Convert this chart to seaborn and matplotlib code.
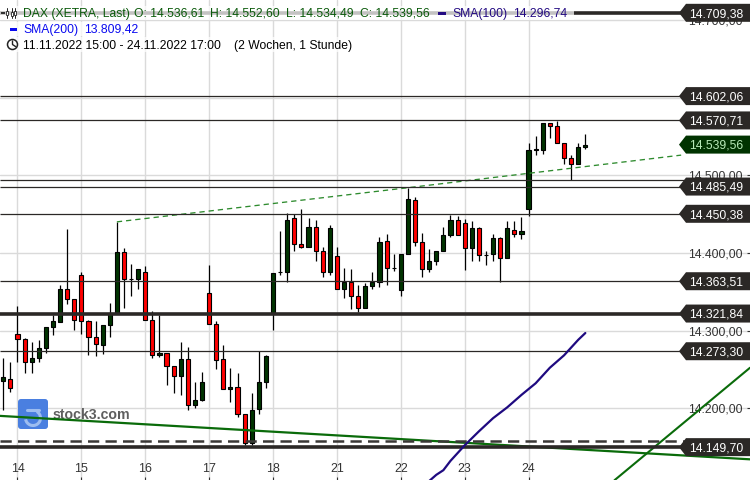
import matplotlib
matplotlib.use('Agg')
import matplotlib.pyplot as plt
import matplotlib.transforms as mtransforms
from matplotlib.patches import Polygon, Rectangle, FancyBboxPatch, Circle, Arc
import numpy as np
import pandas as pd
import seaborn as sns

# hourly candles
opens = [14235, 14238, 14296, 14289, 14260, 14264, 14278, 14304, 14311, 14354,
         14340, 14372, 14312, 14291, 14281, 14307, 14322, 14401, 14366, 14366,
         14375, 14314, 14268, 14271, 14254, 14242, 14263, 14204, 14211, 14348,
         14308, 14263, 14224, 14227, 14192, 14155, 14199, 14233, 14322, 14375,
         14375, 14445, 14411, 14407, 14433, 14403, 14376, 14396, 14353, 14362,
         14345, 14329, 14357, 14363, 14415, 14380, 14352, 14398, 14468, 14414,
         14379, 14390, 14402, 14423, 14443, 14438, 14406, 14432, 14397, 14398,
         14419, 14394, 14430, 14425, 14456, 14533, 14533, 14567, 14564, 14541,
         14522, 14515, 14536.61]
highs = [14264, 14259, 14332, 14290, 14285, 14288, 14304, 14320, 14358, 14431,
         14341, 14375, 14314, 14312, 14307, 14336, 14440, 14406, 14386, 14379,
         14383, 14325, 14320, 14271, 14254, 14285, 14279, 14234, 14246, 14384,
         14312, 14281, 14252, 14245, 14193, 14220, 14273, 14268, 14374, 14428,
         14452, 14450, 14457, 14445, 14443, 14408, 14436, 14407, 14380, 14379,
         14359, 14361, 14375, 14421, 14425, 14399, 14398, 14484, 14472, 14426,
         14405, 14402, 14433, 14449, 14447, 14444, 14441, 14434, 14403, 14425,
         14420, 14441, 14441, 14446, 14541, 14551, 14567, 14568, 14570, 14542,
         14526, 14541, 14552.60]
lows = [14198, 14221, 14259, 14245, 14245, 14259, 14271, 14294, 14311, 14334,
        14301, 14295, 14268, 14267, 14270, 14292, 14322, 14329, 14344, 14354,
        14313, 14265, 14266, 14230, 14220, 14217, 14197, 14200, 14209, 14308,
        14251, 14224, 14208, 14189, 14152, 14152, 14192, 14226, 14301, 14372,
        14363, 14403, 14406, 14407, 14390, 14369, 14371, 14353, 14342, 14328,
        14324, 14329, 14353, 14356, 14359, 14377, 14344, 14398, 14409, 14369,
        14376, 14385, 14402, 14420, 14423, 14378, 14389, 14389, 14385, 14389,
        14363, 14393, 14420, 14418, 14448, 14526, 14528, 14548, 14541, 14515,
        14494, 14515, 14534.49]
closes = [14240, 14226, 14289, 14260, 14264, 14277, 14304, 14312, 14354, 14340,
          14313, 14312, 14291, 14282, 14307, 14322, 14401, 14366, 14366, 14379,
          14314, 14268, 14271, 14254, 14242, 14263, 14204, 14211, 14234, 14308,
          14262, 14224, 14227, 14192, 14155, 14198, 14233, 14267, 14374, 14375,
          14443, 14411, 14407, 14433, 14402, 14376, 14432, 14353, 14362, 14345,
          14329, 14357, 14363, 14414, 14380, 14380, 14398, 14469, 14414, 14379,
          14390, 14402, 14423, 14443, 14423, 14406, 14432, 14397, 14397, 14419,
          14394, 14432, 14425, 14428, 14533, 14533, 14567, 14564, 14541, 14522,
          14515, 14536, 14539.56]

day_pos = [2, 11, 20, 29, 38, 47, 56, 65, 74]
day_labels = ['14', '15', '16', '17', '18', '21', '22', '23', '24']

price_ticks = [14200, 14300, 14400, 14500, 14600, 14700]
price_tick_labels = ['14.200,00', '14.300,00', '14.400,00', '14.500,00', '14.600,00', '14.700,00']

sma_x = [60, 61, 62, 63, 65, 67, 69, 71, 73, 75, 77, 79, 81, 82]
sma_y = [14106, 14114, 14120, 14132, 14152, 14170, 14187, 14201, 14217, 14232, 14252, 14268, 14288, 14296.74]

# horizontal levels: value, label, thick?
levels = [14709.38, 14602.06, 14570.71, 14485.49, 14450.38, 14363.51, 14321.84, 14273.30, 14149.70]
level_labels = ['14.709,38', '14.602,06', '14.570,71', '14.485,49', '14.450,38',
                '14.363,51', '14.321,84', '14.273,30', '14.149,70']
thick_levels = [14709.38, 14321.84, 14149.70]
unlabelled_level = 14493.6
dashed_level = 14157
last_price = 14539.56

# drawn trend lines
trend_dash_x = [16, 57, 95.5]
trend_dash_y = [14440, 14484, 14526]
trend_down_x = [-0.5, 105.2]
trend_down_y = [14190, 14134]
trend_up_x = [86.1, 105.2]
trend_up_y = [14107, 14252]

DARK = '#2b2826'
CANDLE_GREEN = '#003300'

sns.set_theme(style='whitegrid', rc={'grid.color': '#dadada', 'grid.linewidth': 1.0})
plt.rcParams['font.family'] = ['Liberation Sans', 'DejaVu Sans']

fig = plt.figure(figsize=(7.5, 4.8), dpi=100)
ax = fig.add_axes([0, 0, 1, 1])
ax.set_xlim(-0.465, 105.2)
ax.set_ylim(14107.35, 14725.9)
ax.set_axisbelow(True)
for s in ax.spines.values():
    s.set_visible(False)

# pixel coordinates for the overlay bits, y going down
px = mtransforms.Affine2D().scale(1 / 750, -1 / 480).translate(0, 1) + fig.transFigure

ax.set_xticks(day_pos)
ax.set_xticklabels(day_labels, fontsize=8.9, color='#333333')
ax.yaxis.tick_right()
ax.set_yticks(price_ticks)
ax.set_yticklabels(price_tick_labels, fontsize=8.7, color='#333333', ha='right', va='center_baseline')
ax.tick_params(axis='x', direction='in', length=2.5, width=0.8, color='#333333', pad=-12, bottom=True)
ax.tick_params(axis='y', direction='in', length=2.5, width=0.8, color='#333333', pad=-5, right=True)
ax.xaxis.grid(True)
ax.yaxis.grid(True)

# watermark
ax.add_patch(FancyBboxPatch((20, 401), 26, 26, boxstyle='round,pad=2,rounding_size=3', transform=px,
                            fc='#4a7fe0', ec='none', zorder=1))
ax.plot([27, 39], [410, 410], transform=px, color='#9dbdf0', lw=2.2, zorder=1.1)
ax.add_patch(Arc((33, 418), 15, 15, theta1=-60, theta2=170, transform=px, color='#9dbdf0', lw=2.2, zorder=1.1))
ax.text(53, 415, 'stock3.com', transform=px, color='#5f5f5f', fontsize=10.2, fontweight='bold',
        va='center', zorder=1.1)

# candles
df = pd.DataFrame({'i': range(len(opens)), 'o': opens, 'h': highs, 'l': lows, 'c': closes})
df['up'] = df.c >= df.o
ax.vlines(df.i, df.l, df.h, color='black', lw=0.9, zorder=3)
ax.bar(df.i, (df.c - df.o).abs().clip(lower=0.6), bottom=df[['o', 'c']].min(axis=1), width=0.58,
       color=[CANDLE_GREEN if u else '#ff0000' for u in df.up], edgecolor='black', linewidth=0.8, zorder=3.2)

# trend lines
sns.lineplot(x=trend_down_x, y=trend_down_y, ax=ax, color='#0a6b0a', lw=1.6, zorder=3.5)
sns.lineplot(x=trend_up_x, y=trend_up_y, ax=ax, color='#0a6b0a', lw=1.5, zorder=3.5)
sns.lineplot(x=trend_dash_x, y=trend_dash_y, ax=ax, color='#2e8b2e', lw=0.95, ls=(0, (4, 3)), zorder=3.5)

# horizontal levels
x_end = 99.5
for lv in levels + [unlabelled_level]:
    ax.hlines(lv, -0.465, x_end, color=DARK, lw=2.6 if lv in thick_levels else 0.9, zorder=4)
ax.hlines(dashed_level, -0.465, x_end, color='#3a3836', lw=1.8, ls=(0, (4.5, 2.5)), zorder=4)

# SMA(100)
sns.lineplot(x=sma_x, y=sma_y, ax=ax, color='#1f0a80', lw=1.6, zorder=5)

# price tags on the right
def price_tag(value, label, face, text_color):
    y = ax.transData.transform((0, value))[1]
    pts = [(679, y), (686, y + 9), (750, y + 9), (750, y - 9), (686, y - 9)]
    ax.add_patch(Polygon(pts, closed=True, transform=mtransforms.IdentityTransform(), fc=face, ec='none',
                         zorder=6, clip_on=False))
    ax.text(743, y - 4.2, label, transform=mtransforms.IdentityTransform(), color=text_color, fontsize=8.7,
            ha='right', va='baseline', zorder=7)

for lv, lb in zip(levels, level_labels):
    price_tag(lv, lb, DARK, 'white')
price_tag(last_price, '14.539,56', CANDLE_GREEN, '#b8eab8')

# header, on a see-through white backing
ax.add_patch(Rectangle((0, 6), 574, 14, transform=px, fc='white', alpha=0.72, ec='none', zorder=8))
ax.add_patch(Rectangle((0, 22), 145, 14, transform=px, fc='white', alpha=0.72, ec='none', zorder=8))
ax.add_patch(Rectangle((0, 37), 358, 15, transform=px, fc='white', alpha=0.72, ec='none', zorder=8))

GREEN_T = '#0b5a0b'
NAVY_T = '#230a82'
BLUE_T = '#0a0af0'
head = [(23, 17, 'DAX (XETRA, Last)', GREEN_T), (134, 17, 'O: 14.536,61', GREEN_T),
        (210, 17, 'H: 14.552,60', GREEN_T), (286, 17, 'L: 14.534,49', GREEN_T),
        (360, 17, 'C: 14.539,56', GREEN_T), (452, 17, 'SMA(100)', NAVY_T), (513, 17, '14.296,74', NAVY_T),
        (23, 33, 'SMA(200)', BLUE_T), (84, 33, '13.809,42', BLUE_T),
        (23, 49, '11.11.2022 15:00 - 24.11.2022 17:00', 'black'), (234, 49, '(2 Wochen, 1 Stunde)', 'black')]
for x, y, t, c in head:
    ax.text(x, y, t, transform=px, color=c, fontsize=8.75, va='baseline', zorder=9)

# legend dashes and icons
ax.add_patch(Rectangle((438, 11.5), 8, 3, transform=px, fc=NAVY_T, ec='none', zorder=9))
ax.add_patch(Rectangle((10, 27.5), 7, 3, transform=px, fc=BLUE_T, ec='none', zorder=9))
ax.add_patch(Rectangle((1, 12), 4, 2, transform=px, fc='#333333', ec='none', zorder=9))
for x in [7, 11.5, 15]:
    ax.plot([x, x], [7.5, 18], transform=px, color='#222222', lw=0.7, zorder=9)
    ax.add_patch(Rectangle((x - 1, 10 + (x % 2)), 2, 4, transform=px, fc='white', ec='#222222', lw=0.6, zorder=9.1))
ax.add_patch(Circle((12.5, 44.5), 5, transform=px, fc='none', ec='#222222', lw=1.1, zorder=9))
ax.plot([12.5, 12.5, 15.5], [41, 44.5, 46.5], transform=px, color='#222222', lw=1, zorder=9)

ax.set_xlabel('')
ax.set_ylabel('')
fig.savefig('out.png', dpi=100)
